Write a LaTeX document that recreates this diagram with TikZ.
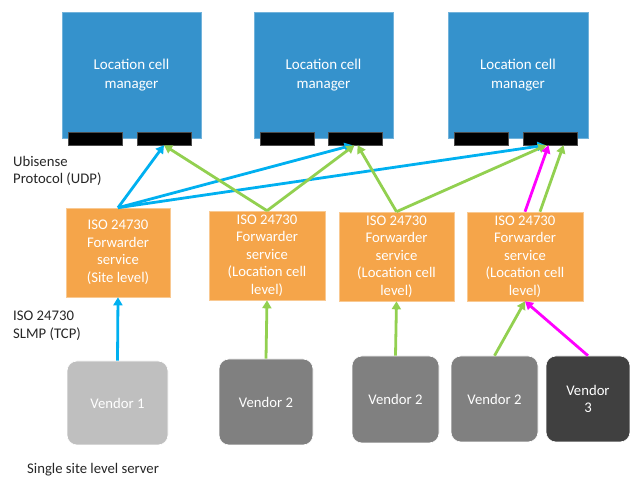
\documentclass[tikz,border=0pt]{standalone}
\usepackage{fontspec}
\setmainfont{Carlito}
\usetikzlibrary{positioning, arrows.meta}
\definecolor{CellBlue}{RGB}{53, 146, 204}
\definecolor{FwdOrange}{RGB}{245, 165, 74}
\definecolor{LinkBlue}{RGB}{0, 176, 240}
\definecolor{LinkGreen}{RGB}{146, 208, 80}
\definecolor{LinkPink}{RGB}{255, 0, 255}
\definecolor{TextDark}{RGB}{38, 38, 38}

\begin{document}
\begin{tikzpicture}[x=1pt,y=-1pt,
    font=\fontsize{14.7}{17.5}\selectfont,
    manager/.style={fill=CellBlue, draw=CellBlue!70!white, line width=0.6pt, text=white, align=center,
      inner sep=0pt, minimum width=139pt, minimum height=126pt, font=\fontsize{15}{19}\selectfont},
    port/.style={fill=black, draw=black!70, line width=0.4pt, inner sep=0pt, minimum width=54pt, minimum height=13pt},
    forwarder/.style={fill=FwdOrange, draw=FwdOrange!60!white, line width=0.6pt, text=white, align=center,
      inner sep=0pt, minimum height=89pt},
    vendor/.style={rounded corners=10pt, text=white, align=center, inner sep=0pt, draw=white, line width=0.6pt},
    note/.style={text=TextDark, align=left, anchor=west, inner sep=0pt},
    link/.style={line width=2.8pt, -{Triangle[length=8pt,width=9pt]}}]
  \useasboundingbox (0,0) rectangle (630,478);

  \node[manager] (lcm1) at (131.5,75) {Location cell\\manager};
  \node[manager] (lcm2) at (323.5,75) {Location cell\\manager};
  \node[manager, minimum width=140pt] (lcm3) at (518,75) {Location cell\\manager};

  \node[port] (lcm1a) at (95,138.5) {};
  \node[port] (lcm1b) at (164,138.5) {};
  \node[port] (lcm2a) at (287,138.5) {};
  \node[port] (lcm2b) at (355.5,138.5) {};
  \node[port] (lcm3a) at (481.5,138.5) {};
  \node[port] (lcm3b) at (550.5,138.5) {};

  \node[forwarder, minimum width=104pt] (fwd1) at (118,252.5) {ISO 24730\\Forwarder\\service\\(Site level)};
  \node[forwarder, minimum width=116pt] (fwd2) at (267,255.5) {ISO 24730\\Forwarder\\service\\(Location cell\\level)};
  \node[forwarder, minimum width=115pt] (fwd3) at (396.5,256.5) {ISO 24730\\Forwarder\\service\\(Location cell\\level)};
  \node[forwarder, minimum width=116pt] (fwd4) at (525,256.5) {ISO 24730\\Forwarder\\service\\(Location cell\\level)};

  \node[vendor, fill=black!25, minimum width=101pt, minimum height=84pt] (ven1) at (117.5,403) {Vendor 1};
  \node[vendor, fill=black!50, minimum width=94pt, minimum height=86pt] (ven2a) at (266,402) {Vendor 2};
  \node[vendor, fill=black!50, minimum width=87pt, minimum height=87pt] (ven2b) at (395.5,399.5) {Vendor 2};
  \node[vendor, fill=black!50, minimum width=87pt, minimum height=86pt] (ven2c) at (494.5,399) {Vendor 2};
  \node[vendor, fill=black!75, minimum width=84pt, minimum height=86pt] (ven3) at (588,399) {Vendor\\3};

  \node[note] (udp) at (13,171) {Ubisense\\Protocol (UDP)};
  \node[note] (slmp) at (13,326) {ISO 24730\\SLMP (TCP)};
  \node[note] (server) at (27,470) {Single site level server};

  \draw[link, LinkBlue] (fwd1.north) -- (lcm1b.south);
  \draw[link, LinkBlue] (fwd1.north) -- ([xshift=-3pt]lcm2b.south);
  \draw[link, LinkBlue] (fwd1.north) -- ([xshift=-5pt]lcm3b.south);
  \draw[link, LinkGreen] (fwd2.north) -- (lcm1b.south);
  \draw[link, LinkGreen] (fwd2.north) -- ([xshift=-1pt]lcm2b.south);
  \draw[link, LinkGreen] (fwd3.north) -- ([xshift=2pt]lcm2b.south);
  \draw[link, LinkGreen] (fwd3.north) -- ([xshift=-4pt]lcm3b.south);
  \draw[link, LinkPink] (fwd4.north) -- ([xshift=-2pt]lcm3b.south);
  \draw[link, LinkGreen] ([xshift=15pt]fwd4.north) -- ([xshift=13pt]lcm3b.south);

  \draw[link, LinkBlue] (ven1.north) -- (fwd1.south);
  \draw[link, LinkGreen] (ven2a.north) -- (fwd2.south);
  \draw[link, LinkGreen] (ven2b.north) -- (fwd3.south);
  \draw[link, LinkGreen] (ven2c.north) -- (fwd4.south);
  \draw[link, LinkPink] (ven3.north) -- (fwd4.south);
\end{tikzpicture}
\end{document}
